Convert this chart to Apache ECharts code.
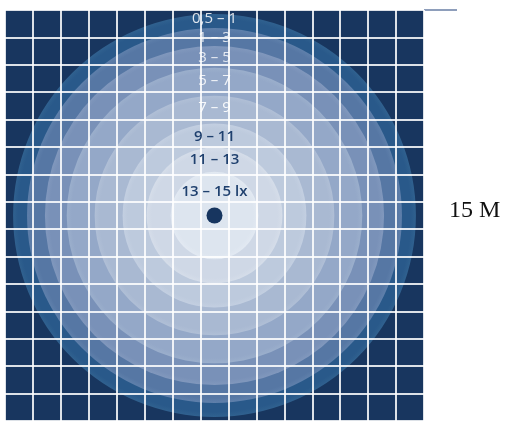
<!DOCTYPE html>
<html>
<head>
<meta charset="utf-8">
<script src="https://cdn.jsdelivr.net/npm/echarts@6/dist/echarts.min.js"></script>
<style>
  html, body { margin: 0; padding: 0; background: #fff; }
  #chart { width: 505px; height: 421px; }
</style>
</head>
<body>
<div id="chart"></div>
<script>
// illuminance bands (lx), outer radius of each band in metres, label height (m)
const bandNames = ['0,5 – 1', '1 – 3', '3 – 5', '5 – 7', '7 – 9', '9 – 11', '11 – 13', '13 – 15 lx']
const bandRadius = [7.21, 6.71, 6.07, 5.29, 4.29, 3.29, 2.43, 1.57]
const labelY = [14.69, 14.0, 13.24, 12.41, 11.43, 10.38, 9.55, 8.35]
const lampPos = [7.5, 7.5]
const roomSize = 15

const bandColors = ['#29598a', '#5677a4', '#7991b8', '#94a8c8', '#a9b9d2', '#bdcadd', '#cfd8e6', '#dde5ef']
const rimColors = ['#30618f', '#5f80ab', '#8198bd', '#9bafcc', '#b0bfd6', '#c3cfe1', '#d5dde9', '#e2e9f2']
const labelColors = ['rgba(255,255,255,0.85)', 'rgba(255,255,255,0.8)', 'rgba(255,255,255,0.8)',
  'rgba(255,255,255,0.85)', 'rgba(255,255,255,0.9)', '#1f406e', '#1f406e', '#1f406e']

const chart = echarts.init(document.getElementById('chart'))

const circleData = bandRadius.map((r, i) => [lampPos[0], lampPos[1], r, i])
const labelData = bandNames.map((n, i) => ({ value: [lampPos[0], labelY[i], i], name: n }))

const options = {
  animation: false,
  grid: {
    left: 5,
    top: 10,
    width: 419,
    height: 414,
    show: true,
    backgroundColor: '#18365f',
    borderWidth: 0
  },
  xAxis: {
    type: 'value',
    min: 0,
    max: roomSize,
    interval: 1,
    z: 5,
    axisLine: { show: false },
    axisTick: { show: false },
    axisLabel: { show: false },
    splitLine: { lineStyle: { color: 'rgba(255,255,255,0.85)', width: 2 } }
  },
  yAxis: {
    type: 'value',
    min: 0,
    max: roomSize,
    interval: 1,
    z: 5,
    axisLine: { show: false },
    axisTick: { show: false },
    axisLabel: { show: false },
    splitLine: { lineStyle: { color: 'rgba(255,255,255,0.85)', width: 2 } }
  },
  graphic: [
    {
      type: 'line',
      shape: { x1: 424, y1: 10, x2: 457, y2: 10 },
      style: { stroke: '#8e9ebb', lineWidth: 2 }
    },
    {
      type: 'text',
      left: 449,
      top: 199,
      style: { text: '15 M', font: '24px "Liberation Serif"', fill: '#111' }
    }
  ],
  series: [
    {
      type: 'custom',
      z: 2,
      data: circleData,
      renderItem: function (params, api) {
        const c = api.coord([api.value(0), api.value(1)])
        const r = api.size([api.value(2), 0])[0]
        const i = api.value(3)
        const rim = Math.max(0, 1 - 5 / r)
        return {
          type: 'circle',
          shape: { cx: c[0], cy: c[1], r: r },
          style: {
            fill: {
              type: 'radial', x: 0.5, y: 0.5, r: 0.5,
              colorStops: [
                { offset: 0, color: bandColors[i] },
                { offset: rim, color: bandColors[i] },
                { offset: 1, color: rimColors[i] }
              ]
            }
          }
        }
      }
    },
    {
      type: 'scatter',
      z: 8,
      symbolSize: 16,
      itemStyle: { color: '#17355f', opacity: 1 },
      data: [lampPos]
    },
    {
      type: 'custom',
      z: 8,
      data: labelData,
      renderItem: function (params, api) {
        const p = api.coord([api.value(0), api.value(1)])
        const i = api.value(2)
        return {
          type: 'text',
          x: p[0],
          y: p[1],
          style: {
            text: bandNames[i],
            fill: labelColors[i],
            font: (i >= 5 ? '600 15px' : '500 15px') + ' "Open Sans"',
            align: 'center',
            verticalAlign: 'middle'
          }
        }
      }
    }
  ]
}
chart.setOption(options)
</script>
</body>
</html>
